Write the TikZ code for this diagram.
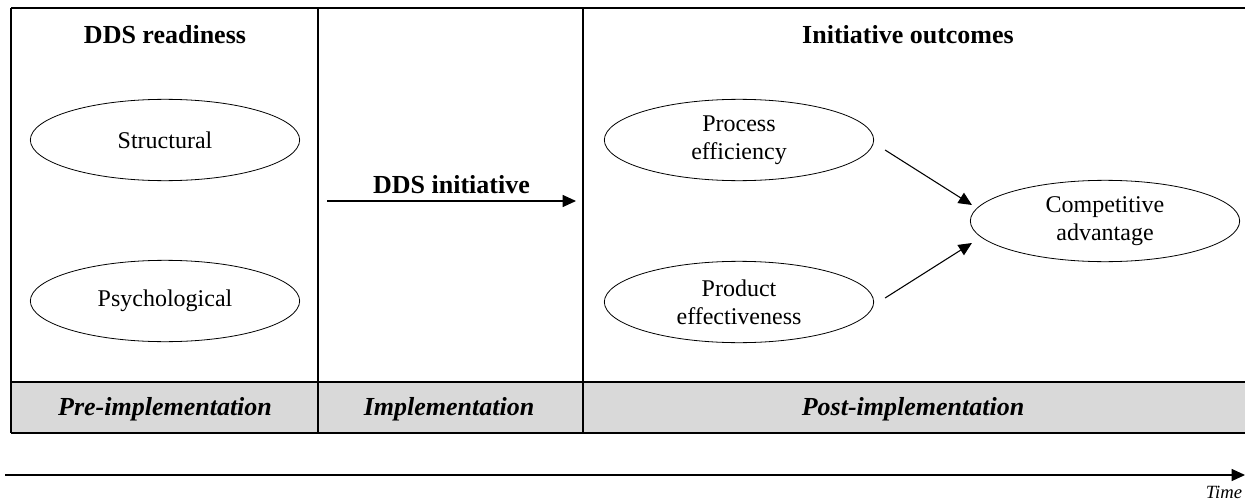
\documentclass[tikz,border=0pt]{standalone}
\usepackage{fontspec}
\setmainfont{Liberation Serif}
\usetikzlibrary{arrows.meta,shapes.geometric,calc}
\tikzset{
  oval/.style={draw, ellipse, line width=0.6pt, minimum width=202pt, minimum height=61pt,
    inner sep=0pt, align=center, font=\fontsize{18}{21}\selectfont},
  heading/.style={font=\fontsize{19.5}{23}\selectfont\bfseries},
  phase/.style={font=\fontsize{19.5}{23}\selectfont\bfseries\itshape},
  frameline/.style={line width=1.6pt},
  conn/.style={line width=0.8pt, -{Triangle[length=10pt,width=9pt]}},
}
\begin{document}
\begin{tikzpicture}[x=0.75pt,y=-0.75pt]
\useasboundingbox (0,0) rectangle (1245,503);
% gray band
\fill[gray!30] (11,382) rectangle (1245,433);
% frame
\draw[frameline] (11,8) -- (1245,8);
\draw[frameline] (11,382) -- (1245,382);
\draw[frameline] (11,433) -- (1245,433);
\draw[line width=1.2pt] (11,8) -- (11,433);
\draw[line width=2pt] (318,8) -- (318,433);
\draw[line width=1.5pt] (583,8) -- (583,433);
% headings
\node[heading] (h1) at (165,35) {DDS readiness};
\node[heading] (h2) at (908,35) {Initiative outcomes};
% ellipses
\node[oval] (st) at (165,140) {Structural};
\node[oval] (ps) at (165,301) {Psychological};
\node[oval] (pe) at (739,140) {Process\\efficiency};
\node[oval] (pd) at (739,302) {Product\\effectiveness};
\node[oval] (ca) at (1105,221) {Competitive\\advantage};
% DDS initiative
\coordinate (i1) at (327,201);
\coordinate (i2) at (576,201);
\draw[conn] (i1) -- node[above, heading, yshift=2pt] {DDS initiative} (i2);
% outcome arrows
\draw[conn] ([shift={(11,10)}]pe.east) -- ([shift={(2,-16)}]ca.west);
\draw[conn] ([shift={(11,-4)}]pd.east) -- ([shift={(2,22)}]ca.west);
% phases
\node[phase] (p1) at (165,409) {Pre-implementation};
\node[phase] (p2) at (449,409) {Implementation};
\node[phase] (p3) at (913,409) {Post-implementation};
% time arrow
\coordinate (t1) at (5,475);
\coordinate (t2) at (1245,475);
\draw[conn] (t1) -- (t2);
\node[font=\fontsize{14}{16}\selectfont\itshape, inner sep=1pt] (tm) at (1224,492) {Time};
\end{tikzpicture}
\end{document}
